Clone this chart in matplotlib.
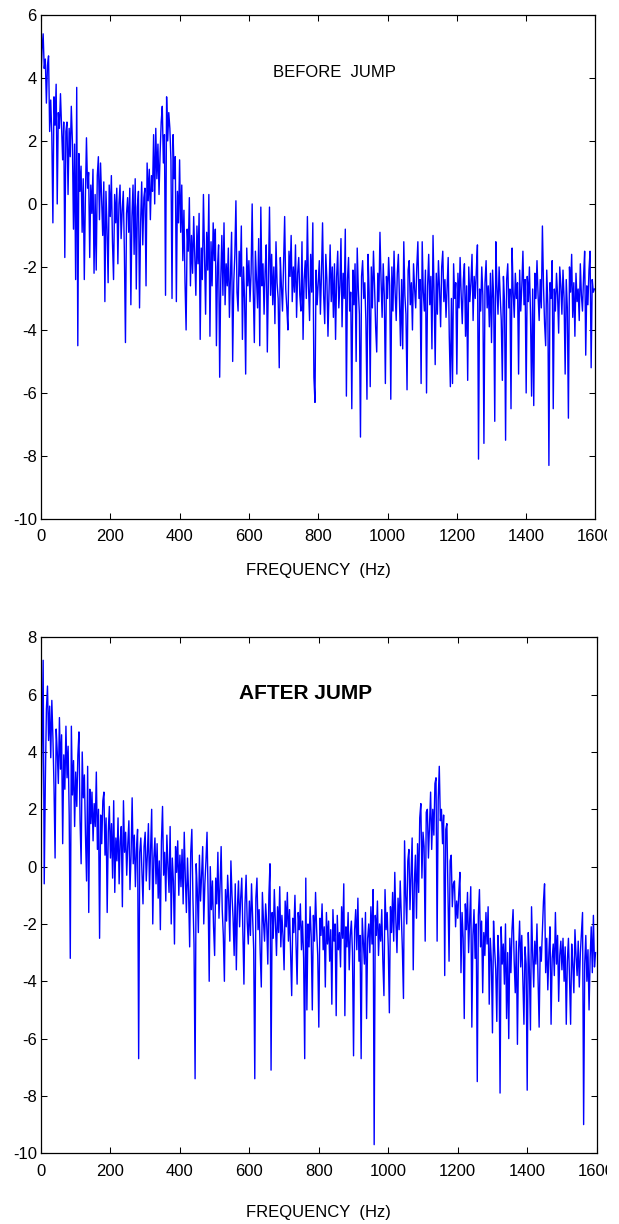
import numpy as np
import matplotlib
matplotlib.use("Agg")
import matplotlib.pyplot as plt
from matplotlib.transforms import Bbox, TransformedBbox

plt.rcParams['font.family'] = ['Liberation Sans', 'DejaVu Sans']
plt.rcParams['axes.unicode_minus'] = False  # plain hyphen like the original

# frequency bins (Hz): 512 bins, 3.125 Hz apart
freq = np.arange(512) * 3.125

# log spectrum before the jump (32 values per row = 100 Hz)
before_jump = [
    4.0, 4.9, 5.4, 4.3, 4.6, 3.2, 4.4, 4.7, 2.3, 3.3, 2.2, -0.6, 3.4, 2.5, 3.8, 0.0,
    2.9, 2.4, 3.5, 2.5, 1.4, 2.6, -1.7, 2.3, 2.6, 0.3, 2.4, 1.5, 3.1, 2.0, -0.8, 1.9,
    -2.4, 3.7, -4.5, 1.6, 0.4, 1.2, -0.9, 0.8, -2.4, 0.2, 2.1, 0.5, 1.0, -1.7, 0.6, -0.3,
    1.1, -2.2, 0.3, -2.1, 0.9, 1.5, -0.5, 1.3, 0.2, -1.0, 0.7, -3.1, 0.4, -0.8, -2.5, 0.6,
    -0.4, 0.9, -1.2, -2.4, 0.3, -0.6, 0.5, -1.9, 0.0, 0.6, -1.1, -0.2, 0.4, -1.5, -4.4, -0.3,
    0.2, -0.9, 0.5, -3.2, -0.4, 0.6, -1.6, 0.8, -2.7, -0.1, 0.4, -3.3, -0.6, 0.7, -1.3, 0.2,
    0.5, -2.6, 1.3, 0.1, 1.1, -0.5, 0.9, 0.4, 2.2, 0.0, 2.4, 0.8, 1.9, 0.3, 1.6, 2.6,
    3.1, 1.3, 2.2, -2.9, 3.4, 2.0, 2.9, 2.4, 1.4, -3.0, 2.2, 0.8, 1.5, -3.1, 0.4, -0.6,
    1.4, -0.9, 0.6, -1.8, -0.2, -2.5, -4.0, -0.8, -1.5, 0.2, -2.6, -1.0, -2.2, -0.4, -1.6, -2.9,
    -0.7, -1.9, -0.3, -4.3, -1.4, -2.4, 0.3, -1.7, -3.5, -0.9, -2.1, 0.3, -4.2, -1.2, -2.6, -0.6,
    -1.8, -0.8, -4.5, -2.0, -1.3, -5.5, -2.4, -1.0, -2.9, -0.6, -3.2, -1.9, -2.6, -1.4, -3.6, -2.2,
    -0.9, -5.0, -2.5, -1.6, 0.1, -2.8, -3.4, -1.5, -2.3, -0.7, -4.3, -2.0, -3.0, -5.4, -1.4, -2.6,
    -1.8, -3.1, -2.2, 0.0, -2.7, -4.4, -1.5, -2.4, -3.3, -1.1, -4.5, -0.1, -2.6, -1.9, -3.5, -2.1,
    -1.3, -4.7, -2.4, -0.1, -2.9, -1.6, -3.2, -2.0, -3.8, -1.2, -2.5, -3.0, -5.2, -1.7, -2.6, -3.4,
    -1.9, -0.4, -2.7, -3.3, -4.0, -1.5, -2.3, -1.0, -3.1, -2.0, -2.8, -1.3, -3.6, -2.2, -1.7, -2.9,
    -3.4, -1.2, -4.3, -2.4, -1.8, -3.0, -0.4, -2.6, -3.7, -1.6, -2.8, -0.6, -5.5, -6.3, -2.1, -3.2,
    -2.5, -1.8, -3.5, -2.2, -0.6, -2.9, -3.8, -1.6, -2.4, -4.2, -2.7, -1.3, -3.1, -2.0, -3.6, -1.9,
    -4.3, -2.3, -1.5, -3.3, -2.6, -1.1, -3.9, -2.2, -3.0, -0.8, -6.1, -2.4, -1.7, -3.4, -2.8, -6.5,
    -2.1, -3.2, -1.9, -5.0, -1.4, -2.7, -3.5, -7.4, -2.3, -1.8, -3.0, -2.5, -3.7, -6.2, -1.6, -2.8,
    -5.8, -2.0, -3.3, -1.5, -2.6, -3.9, -4.7, -2.2, -3.1, -0.9, -2.4, -3.6, -1.9, -2.9, -5.7, -2.3,
    -3.0, -1.7, -2.6, -6.2, -2.0, -3.4, -1.5, -2.8, -3.7, -2.2, -1.6, -3.1, -4.5, -2.4, -4.6, -1.2,
    -2.9, -3.5, -5.9, -2.1, -1.8, -3.2, -2.5, -4.0, -1.9, -2.7, -3.3, -2.0, -1.2, -3.0, -2.4, -5.7,
    -1.2, -2.8, -3.4, -2.1, -6.0, -2.6, -1.6, -3.2, -2.3, -4.6, -1.0, -2.9, -5.1, -2.2, -3.5, -1.8,
    -2.7, -3.9, -2.0, -1.5, -3.1, -2.4, -3.6, -2.6, -1.7, -4.2, -5.8, -3.0, -5.7, -1.9, -3.0, -2.5,
    -5.4, -2.2, -3.3, -1.7, -2.9, -3.8, -2.4, -1.9, -4.2, -2.6, -5.6, -2.0, -3.1, -2.5, -1.6, -3.7,
    -2.3, -3.0, -2.1, -1.3, -8.1, -2.7, -3.4, -2.0, -2.9, -7.6, -2.5, -1.8, -3.3, -2.6, -3.9, -2.2,
    -4.4, -2.1, -3.0, -6.9, -1.2, -2.6, -3.5, -2.0, -2.9, -3.7, -5.6, -2.3, -3.1, -7.5, -2.4, -1.9,
    -3.3, -2.7, -6.5, -1.4, -2.8, -3.6, -2.2, -3.0, -2.5, -5.4, -2.1, -3.4, -2.6, -1.5, -3.2, -2.4,
    -6.0, -2.3, -3.1, -2.0, -3.5, -6.1, -2.7, -6.4, -2.2, -3.0, -1.8, -2.9, -3.7, -2.4, -3.3, -0.7,
    -2.6, -3.8, -4.5, -2.1, -3.2, -8.3, -2.5, -3.0, -1.8, -6.5, -2.7, -3.4, -2.2, -2.9, -4.1, -2.0,
    -2.6, -3.5, -2.1, -3.0, -5.4, -2.4, -3.3, -6.8, -2.0, -2.8, -1.6, -3.6, -2.5, -4.2, -2.2, -3.1,
    -2.7, -3.7, -1.9, -2.9, -3.4, -2.3, -1.5, -4.8, -2.6, -3.2, -2.1, -1.5, -5.2, -2.4, -2.8, -2.7,
]

# log spectrum after the jump
after_jump = [
    1.4, 4.2, 7.2, -0.6, 2.9, 5.5, 6.3, 4.4, 5.6, 3.8, 5.8, 4.5, 2.8, 0.3, 4.8, 4.0,
    2.9, 5.2, 3.4, 4.6, 0.8, 3.9, 2.7, 4.9, 3.1, 4.2, 1.8, -3.2, 4.9, 2.5, 3.7, 1.4,
    3.3, 2.1, 3.9, 4.7, 1.6, 0.1, 4.0, 2.4, 3.2, 1.1, -0.5, 3.5, -1.6, 2.7, 1.5, 2.6,
    0.9, 2.2, 1.4, 3.3, 0.6, 2.0, -2.5, 1.8, 0.8, 2.3, 2.6, 0.4, 1.7, -1.6, 1.2, 2.1,
    0.3, 1.5, -0.4, 2.3, -0.9, 1.0, 0.2, 1.7, -0.6, 0.9, 1.4, -1.4, 2.3, 0.5, 1.2, -0.3,
    0.8, 1.6, -0.8, 0.4, 2.4, 0.1, 1.1, -0.7, 0.6, 1.3, -6.7, 0.5, 1.0, -0.2, -1.3, 0.7,
    1.2, -0.5, 0.4, 1.5, -0.8, 0.6, 2.0, -2.0, 0.3, 1.0, -0.6, 0.8, -1.1, 0.2, -2.2, 0.9,
    2.1, -0.3, 0.5, -1.2, 1.1, 0.0, -0.9, 1.4, -2.0, 0.3, -0.5, -2.7, 0.7, -0.2, 0.9, -1.0,
    0.4, -0.7, 0.6, -1.3, 1.2, -0.4, -1.6, 0.3, -0.9, -2.8, 0.5, 1.3, -1.1, -2.7, -7.4, 0.1,
    -0.8, -2.3, 0.4, -1.2, -0.3, 0.7, -2.0, -0.6, 0.2, 1.2, -1.0, -4.0, 0.0, -1.5, -0.5, -2.1,
    -3.1, -0.4, -1.3, 0.5, -1.8, -0.7, 0.7, -1.5, -2.4, -4.0, -0.8, -1.9, -0.3, -1.2, -2.6, 0.2,
    -1.0, -1.8, -3.1, -0.6, -3.6, -1.4, -0.5, -2.1, -1.1, -0.4, -2.3, -4.1, -1.3, -0.3, -1.9, -2.7,
    -1.2, -2.4, -0.6, -1.8, -2.9, -7.4, -1.1, -0.4, -2.2, -1.5, -3.0, -4.2, -0.9, -1.9, -2.6, -1.3,
    -2.0, -3.4, -1.0, 0.1, -7.1, -1.6, -2.5, -0.8, -1.9, -3.1, -1.4, -2.3, -0.7, -2.8, -1.7, -2.4,
    -3.6, -1.2, -2.1, -0.9, -2.6, -1.5, -3.0, -4.5, -1.8, -2.3, -1.0, -2.7, -4.1, -1.6, -2.2, -1.3,
    -2.9, -1.9, -3.2, -6.7, -0.4, -5.0, -2.0, -2.8, -1.4, -2.5, -5.0, -1.7, -2.6, -0.9, -2.2, -3.1,
    -5.6, -1.8, -2.4, -1.3, -2.9, -2.1, -4.2, -1.6, -2.7, -1.9, -3.3, -2.2, -4.8, -1.5, -2.6, -2.0,
    -5.2, -1.7, -2.9, -2.3, -3.5, -1.4, -2.5, -0.6, -5.2, -2.1, -2.8, -1.6, -3.6, -2.4, -1.9, -3.0,
    -6.6, -2.2, -1.5, -2.9, -1.1, -3.3, -2.4, -6.7, -1.8, -2.6, -3.4, -1.6, -5.3, -2.5, -2.0, -3.0,
    -1.4, -2.7, -0.8, -9.7, -1.7, -2.4, -1.2, -3.1, -2.0, -2.6, -1.5, -3.3, -4.5, -0.8, -2.2, -1.6,
    -2.8, -5.1, -1.4, -2.3, -0.9, -2.6, -0.2, -1.9, -3.0, -1.1, -2.2, -0.5, -1.7, -2.9, -4.6, 0.9,
    -1.0, -2.0, 0.2, 0.6, -1.5, -0.3, 1.0, -3.6, -0.6, 0.4, -1.8, 0.8, -0.9, 1.7, 2.2, -0.4,
    1.2, 0.7, -2.6, 1.9, 2.0, 0.3, 1.4, 2.6, 0.6, 2.0, 1.1, 2.9, 3.1, -2.6, 2.3, 3.5,
    1.6, 2.0, 0.8, 1.8, -3.8, 1.3, 1.5, -0.9, -3.3, 0.2, 0.4, -1.4, -0.6, -0.5, -2.1, -1.2,
    -1.8, -0.9, -0.2, -3.7, -1.6, -2.5, -5.3, -1.3, -2.2, -0.9, -3.0, -1.9, -0.7, -5.6, -2.4, -1.5,
    -3.2, -2.0, -7.5, -1.7, -0.8, -2.8, -1.9, -4.4, -2.3, -3.1, -1.6, -2.7, -1.4, -4.8, -2.5, -3.3,
    -5.8, -1.9, -2.9, -3.6, -5.4, -2.4, -3.2, -7.9, -2.1, -3.4, -2.7, -4.1, -2.0, -5.3, -3.0, -6.0,
    -2.5, -3.7, -2.2, -1.5, -3.3, -4.4, -2.6, -6.2, -3.0, -1.9, -3.5, -2.4, -4.0, -5.5, -2.8, -3.4,
    -7.8, -2.3, -3.6, -5.7, -1.4, -3.0, -4.2, -2.6, -3.4, -2.0, -3.9, -5.6, -2.8, -3.3, -2.2, -1.2,
    -0.6, -3.7, -2.5, -4.3, -3.0, -2.1, -5.5, -3.2, -2.7, -3.8, -1.6, -3.4, -2.4, -4.7, -3.1, -2.6,
    -3.6, -2.5, -4.0, -2.8, -5.5, -3.3, -2.5, -3.9, -5.5, -2.7, -3.4, -4.4, -2.2, -3.1, -3.8, -2.6,
    -4.2, -3.0, -2.3, -1.6, -9.0, -3.4, -2.4, -4.0, -2.9, -5.0, -3.2, -2.1, -3.7, -1.7, -3.5, -3.0,
]

panels = [
    # series, y limits, title, title size, weight, title position, axes rect, xlabel y (axes coords)
    (before_jump, (-10, 6), 'BEFORE  JUMP', 12, 'normal', (0.418, 0.885), [0.0662, 0.5760, 0.8958, 0.4118], -0.087),
    (after_jump, (-10, 8), 'AFTER JUMP', 15, 'bold', (0.357, 0.891), [0.0662, 0.0578, 0.8977, 0.4215], -0.100),
]

fig = plt.figure(figsize=(6.19, 12.24), dpi=100)

for data, ylim, title, tsize, weight, tpos, rect, xly in panels:
    ax = fig.add_axes(rect)
    ax.plot(freq, data, color='#0000ff', linewidth=1.0)
    ax.set_xlim(0, 1600)
    ax.set_ylim(*ylim)
    ax.set_xticks(np.arange(0, 1601, 200))
    ax.set_yticks(np.arange(ylim[0], ylim[1] + 1, 2))
    # matlab style box, inward ticks on all four sides
    ax.tick_params(direction='in', top=True, right=True, length=4, width=0.75, labelsize=12)
    ax.tick_params(axis='x', pad=7.5)
    ax.tick_params(axis='y', pad=3)
    for s in ax.spines.values():
        s.set_linewidth(0.9)
    ax.text(tpos[0], tpos[1], title, transform=ax.transAxes, ha='left', va='center',
            fontsize=tsize, fontweight=weight)
    ax.set_xlabel('FREQUENCY  (Hz)', fontsize=12)
    ax.xaxis.set_label_coords(0.5, xly)
    # last tick label "1600" is cut off at the right side in the original
    clip = TransformedBbox(Bbox([[0, 0], [607 / 619, 1]]), fig.transFigure)
    lab = ax.get_xticklabels()[-1]
    lab.set_clip_on(True)
    lab.set_clip_box(clip)

fig.savefig('out.png', dpi=100)
